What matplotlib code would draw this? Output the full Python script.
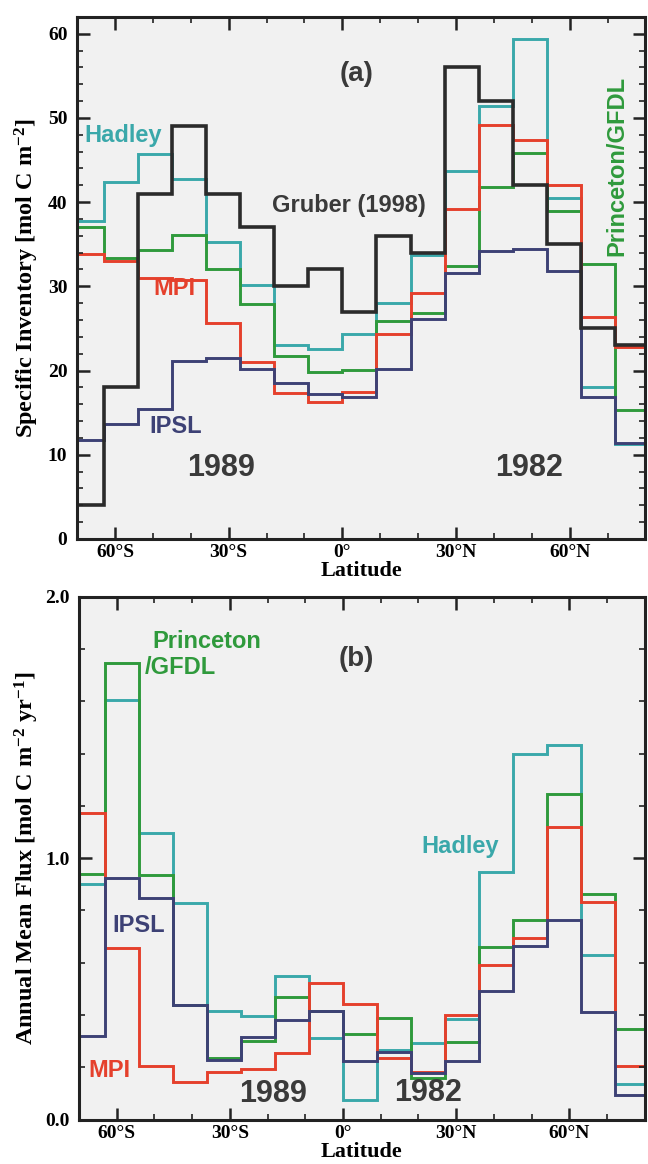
import numpy as np
import matplotlib.pyplot as plt
from matplotlib.ticker import MultipleLocator

plt.rcParams['mathtext.fontset'] = 'custom'
plt.rcParams['mathtext.rm'] = 'Liberation Serif:bold'
plt.rcParams['mathtext.it'] = 'Liberation Serif:bold'
plt.rcParams['mathtext.bf'] = 'Liberation Serif:bold'

# 9-degree latitude bands, plot clipped to 70S..80N
edges = np.arange(-72, 82, 9)

# (a) specific inventory [mol C m-2]
inv_gruber = [4, 18, 41, 49, 41, 37, 30, 32, 27, 36, 34, 56, 52, 42, 35, 25, 23]
inv_hadley = [37.8, 42.4, 45.7, 42.7, 35.3, 30.1, 23.0, 22.5, 24.3, 28.0, 33.7,
              43.7, 51.4, 59.4, 40.5, 18.1, 11.3]
inv_princeton = [37.0, 33.4, 34.3, 36.1, 32.0, 27.9, 21.7, 19.8, 20.1, 25.9, 26.8,
                 32.4, 41.8, 45.8, 39.0, 32.6, 15.3]
inv_mpi = [33.8, 33.0, 31.0, 30.8, 25.6, 21.0, 17.3, 16.3, 17.4, 24.3, 29.2,
           39.2, 49.2, 47.4, 42.0, 26.3, 22.8]
inv_ipsl = [11.8, 13.6, 15.4, 21.1, 21.5, 20.2, 18.5, 17.2, 16.8, 20.2, 26.1,
            31.6, 34.2, 34.4, 31.8, 16.9, 11.4]

# (b) annual mean flux [mol C m-2 yr-1]
flux_hadley = [0.90, 1.607, 1.096, 0.828, 0.414, 0.395, 0.549, 0.311, 0.074, 0.265,
               0.292, 0.384, 0.949, 1.40, 1.434, 0.628, 0.135]
flux_princeton = [0.94, 1.748, 0.937, 0.44, 0.235, 0.299, 0.468, 0.414, 0.326, 0.388,
                  0.158, 0.298, 0.66, 0.763, 1.246, 0.863, 0.346]
flux_mpi = [1.172, 0.655, 0.205, 0.142, 0.183, 0.192, 0.256, 0.523, 0.442, 0.234,
            0.18, 0.40, 0.59, 0.696, 1.121, 0.831, 0.203]
flux_ipsl = [0.321, 0.924, 0.846, 0.44, 0.228, 0.315, 0.382, 0.417, 0.225, 0.26,
             0.177, 0.225, 0.491, 0.664, 0.763, 0.412, 0.094]

lat_ticks = [-60, -30, 0, 30, 60]
lat_labels = ['60°S', '30°S', '0°', '30°N', '60°N']

TEAL = '#3aa8aa'
GREEN = '#2f9a3c'
RED = '#e5402c'
NAVY = '#3d4175'
BLACK = '#2b2b2b'
GREY = '#3a3a3a'
BG = '#f1f1f1'

SERIF = 'Liberation Serif'
SANS = 'Liberation Sans'
LW = 2.1


def style_axes(ax):
    ax.set_facecolor(BG)
    ax.set_xlim(-70, 80)
    ax.set_xticks(lat_ticks)
    ax.set_xticklabels(lat_labels)
    ax.xaxis.set_minor_locator(MultipleLocator(10))
    ax.tick_params(which='both', direction='in', top=True, right=True, color='#222222')
    ax.tick_params(which='major', length=9, width=1.8)
    ax.tick_params(which='minor', length=4.5, width=1.2)
    ax.tick_params(axis='x', pad=4)
    ax.tick_params(axis='y', pad=7)
    for lab in ax.get_xticklabels() + ax.get_yticklabels():
        lab.set_fontfamily(SERIF)
        lab.set_fontweight('bold')
        lab.set_fontsize(14)
    for sp in ax.spines.values():
        sp.set_linewidth(2.2)
        sp.set_color('#222222')
    ax.set_xlabel('Latitude', fontfamily=SERIF, fontweight='bold', fontsize=16, labelpad=0)


def label(ax, x, y, s, color, size=17, **kw):
    ax.text(x, y, s, color=color, fontfamily=SANS, fontweight='bold', fontsize=size, **kw)


fig = plt.figure(figsize=(6.48, 11.64), dpi=100)

# ---- (a) inventory ----
ax1 = fig.add_axes([0.119, 0.537, 0.877, 0.4485])
ax1.stairs(inv_hadley, edges, color=TEAL, lw=LW)
ax1.stairs(inv_princeton, edges, color=GREEN, lw=LW)
ax1.stairs(inv_mpi, edges, color=RED, lw=LW)
ax1.stairs(inv_ipsl, edges, color=NAVY, lw=LW)
ax1.stairs(inv_gruber, edges, color=BLACK, lw=2.6)
ax1.set_ylim(0, 62)
ax1.set_yticks([0, 10, 20, 30, 40, 50, 60])
ax1.yaxis.set_minor_locator(MultipleLocator(2))
style_axes(ax1)
ax1.set_ylabel('Specific Inventory [mol C m$^{-2}$]', fontfamily=SERIF,
               fontweight='bold', fontsize=17.5, labelpad=5)

label(ax1, 3.7, 55.2, '(a)', GREY, size=20, ha='center', va='center')
label(ax1, -68, 47.9, 'Hadley', TEAL, ha='left', va='center')
label(ax1, 1.7, 39.6, 'Gruber (1998)', GREY, ha='center', va='center')
label(ax1, -44.2, 29.8, 'MPI', RED, ha='center', va='center')
label(ax1, 72.5, 44.3, 'Princeton/GFDL', GREEN, ha='center', va='center', rotation=90)
label(ax1, -44, 13.4, 'IPSL', NAVY, ha='center', va='center')
label(ax1, -32, 8.4, '1989', GREY, size=22, ha='center', va='center')
label(ax1, 49.2, 8.4, '1982', GREY, size=22, ha='center', va='center')

# ---- (b) flux ----
ax2 = fig.add_axes([0.122, 0.0382, 0.873, 0.449])
ax2.stairs(flux_hadley, edges, color=TEAL, lw=LW)
ax2.stairs(flux_princeton, edges, color=GREEN, lw=LW)
ax2.stairs(flux_mpi, edges, color=RED, lw=LW)
ax2.stairs(flux_ipsl, edges, color=NAVY, lw=LW)
ax2.set_ylim(0, 2.0)
ax2.set_yticks([0, 1.0, 2.0])
ax2.set_yticklabels(['0.0', '1.0', '2.0'])
ax2.yaxis.set_minor_locator(MultipleLocator(0.2))
style_axes(ax2)
ax2.set_ylabel('Annual Mean Flux [mol C m$^{-2}$ yr$^{-1}$]', fontfamily=SERIF,
               fontweight='bold', fontsize=17.5, labelpad=3)

label(ax2, 3.4, 1.764, '(b)', GREY, size=20, ha='center', va='center')
label(ax2, -50.6, 1.83, 'Princeton', GREEN, ha='left', va='center')
label(ax2, -52.7, 1.73, '/GFDL', GREEN, ha='left', va='center')
label(ax2, 31, 1.044, 'Hadley', TEAL, ha='center', va='center')
label(ax2, -54.1, 0.743, 'IPSL', NAVY, ha='center', va='center')
label(ax2, -62, 0.186, 'MPI', RED, ha='center', va='center')
label(ax2, -18.5, 0.098, '1989', GREY, size=22, ha='center', va='center')
label(ax2, 22.5, 0.10, '1982', GREY, size=22, ha='center', va='center')

fig.savefig('out.png', dpi=100, facecolor='white')
